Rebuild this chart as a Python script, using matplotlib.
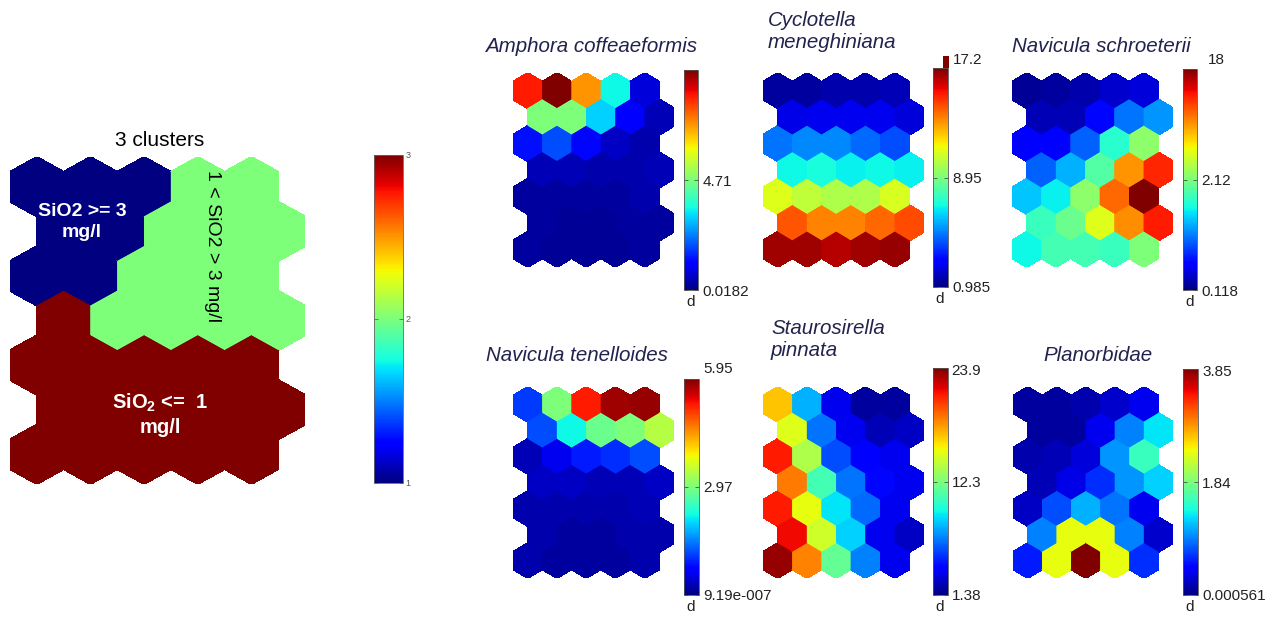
import numpy as np
import matplotlib
matplotlib.use('Agg')
import matplotlib.pyplot as plt
from matplotlib.collections import PolyCollection
from matplotlib.colors import Normalize
from matplotlib.patches import Rectangle
import matplotlib.cm as cm

W, H = 1274, 620
plt.rcParams['font.family'] = ['Liberation Sans', 'DejaVu Sans']
plt.rcParams['mathtext.fontset'] = 'custom'
plt.rcParams['mathtext.rm'] = 'Liberation Sans'
plt.rcParams['mathtext.bf'] = 'Liberation Sans:bold'

# ---------------- data ----------------
N_COLS, N_ROWS = 5, 7

cluster_ids = [
    [1, 1, 1, 2, 2],
    [1, 1, 2, 2, 2],
    [1, 1, 2, 2, 2],
    [3, 2, 2, 2, 2],
    [3, 3, 3, 3, 3],
    [3, 3, 3, 3, 3],
    [3, 3, 3, 3, 3],
]
cluster_ticks = [1, 2, 3]

species = ["Amphora coffeaeformis", "Cyclotella\nmeneghiniana", "Navicula schroeterii",
           "Navicula tenelloides", "Staurosirella\npinnata", "Planorbidae"]

# relative level on each colour bar (0 = bottom, 1 = top)
amphora = [
    [0.88, 1.00, 0.75, 0.37, 0.08],
    [0.50, 0.50, 0.33, 0.12, 0.05],
    [0.14, 0.20, 0.13, 0.06, 0.04],
    [0.05, 0.05, 0.04, 0.04, 0.05],
    [0.03, 0.03, 0.03, 0.03, 0.04],
    [0.03, 0.02, 0.02, 0.03, 0.03],
    [0.03, 0.02, 0.02, 0.02, 0.03],
]
cyclotella = [
    [0.03, 0.03, 0.04, 0.04, 0.05],
    [0.09, 0.10, 0.10, 0.10, 0.08],
    [0.24, 0.26, 0.26, 0.23, 0.20],
    [0.37, 0.38, 0.36, 0.37, 0.36],
    [0.62, 0.58, 0.56, 0.56, 0.61],
    [0.82, 0.77, 0.77, 0.80, 0.83],
    [0.97, 0.97, 0.95, 0.97, 0.98],
]
schroeterii = [
    [0.02, 0.03, 0.04, 0.07, 0.08],
    [0.05, 0.05, 0.13, 0.24, 0.27],
    [0.12, 0.11, 0.22, 0.40, 0.52],
    [0.22, 0.30, 0.45, 0.75, 0.87],
    [0.32, 0.36, 0.52, 0.80, 1.00],
    [0.42, 0.48, 0.62, 0.76, 0.88],
    [0.37, 0.43, 0.43, 0.42, 0.50],
]
tenelloides = [
    [0.18, 0.50, 0.88, 0.97, 0.98],
    [0.20, 0.37, 0.48, 0.50, 0.57],
    [0.05, 0.10, 0.15, 0.17, 0.20],
    [0.06, 0.06, 0.05, 0.05, 0.06],
    [0.04, 0.04, 0.04, 0.04, 0.05],
    [0.04, 0.03, 0.03, 0.04, 0.04],
    [0.04, 0.03, 0.03, 0.03, 0.04],
]
staurosirella = [
    [0.70, 0.30, 0.10, 0.03, 0.03],
    [0.62, 0.24, 0.10, 0.05, 0.06],
    [0.88, 0.56, 0.20, 0.12, 0.10],
    [0.78, 0.43, 0.24, 0.13, 0.10],
    [0.88, 0.63, 0.35, 0.23, 0.10],
    [0.90, 0.60, 0.33, 0.10, 0.06],
    [0.98, 0.77, 0.47, 0.25, 0.10],
]
planorbidae = [
    [0.03, 0.03, 0.04, 0.07, 0.10],
    [0.03, 0.03, 0.10, 0.25, 0.35],
    [0.04, 0.05, 0.08, 0.27, 0.42],
    [0.05, 0.09, 0.17, 0.27, 0.33],
    [0.06, 0.20, 0.30, 0.24, 0.10],
    [0.25, 0.63, 0.63, 0.25, 0.07],
    [0.15, 0.63, 1.00, 0.63, 0.17],
]
maps = [amphora, cyclotella, schroeterii, tenelloides, staurosirella, planorbidae]

bar_bottom_labels = ["0.0182", "0.985", "0.118", "9.19e-007", "1.38", "0.000561"]
bar_mid_labels = ["4.71", "8.95", "2.12", "2.97", "12.3", "1.84"]
bar_top_labels = ["", "17.2", "18", "5.95", "23.9", "3.85"]

# ---------------- layout (pixels: x0, y0, x1, y1) ----------------
map_boxes = [(513, 73, 674, 267), (763, 73, 924, 267), (1012, 73, 1173, 267),
             (513, 387, 674, 578), (763, 387, 924, 578), (1013, 387, 1173, 578)]
bar_boxes = [(684, 70, 698, 290), (933, 68, 948, 287), (1183, 69, 1197, 290),
             (684, 379, 699, 595), (933, 368, 948, 595), (1183, 369, 1198, 595)]
title_pos = [(485, 47), (768, 31), (1012, 47), (486, 355), (771, 340), (1043, 355)]
top_label_pos = [None, (953, 60), (1208, 60), (703, 369), (951, 371), (1202, 372)]


def px_axes(fig, box):
    x0, y0, x1, y1 = box
    return fig.add_axes([x0 / W, 1 - y1 / H, (x1 - x0) / W, (y1 - y0) / H])


R = 1 / np.sqrt(3)
DY = np.sqrt(3) / 2


def hex_polys(n_rows, n_cols):
    polys = []
    ang = np.deg2rad(90 + 60 * np.arange(6))
    for r in range(n_rows):
        for c in range(n_cols):
            cx = c + 0.5 * (r % 2)
            cy = -r * DY
            polys.append(np.column_stack([cx + R * np.cos(ang), cy + R * np.sin(ang)]))
    return polys


def draw_hexmap(ax, values, norm):
    vals = np.asarray(values, dtype=float).ravel()
    polys = hex_polys(N_ROWS, N_COLS)
    # seam filler (no antialiasing) beneath a smooth top layer
    base = PolyCollection(polys, array=vals, cmap='jet', norm=norm,
                          edgecolors='face', linewidths=0.6, antialiaseds=False)
    top = PolyCollection(polys, array=vals, cmap='jet', norm=norm,
                         edgecolors='none', linewidths=0, antialiaseds=True)
    ax.add_collection(base)
    ax.add_collection(top)
    ax.set_xlim(-0.5, N_COLS)
    ax.set_ylim(-((N_ROWS - 1) * DY + R), R)
    ax.set_axis_off()


fig = plt.figure(figsize=(W / 100, H / 100), dpi=100)
fig.patch.set_facecolor('white')

# ---- cluster map ----
axc = px_axes(fig, (10, 157, 305, 484))
cnorm = Normalize(1, 3)
draw_hexmap(axc, cluster_ids, cnorm)
fig.text(160 / W, 1 - 141 / H, "3 clusters", ha='center', va='center', fontsize=15)
fig.text(82 / W, 1 - 222 / H, "SiO2 >= 3\nmg/l", ha='center', va='center', fontsize=14,
         color='white', fontweight='bold', linespacing=1.25)
fig.text(212 / W, 1 - 246 / H, "1 < SiO2 > 3 mg/l", ha='center', va='center', fontsize=14,
         rotation=270, color='black')
fig.text(160 / W, 1 - 414 / H, "SiO$_\\mathbf{2}$ <=  1\nmg/l", ha='center', va='center',
         fontsize=14.5, color='white', fontweight='bold', linespacing=1.25)

caxc = px_axes(fig, (374, 155, 403, 483))
cb = fig.colorbar(cm.ScalarMappable(norm=cnorm, cmap='jet'), cax=caxc, ticks=cluster_ticks)
cb.ax.set_yticklabels([str(t) for t in cluster_ticks])
cb.outline.set_linewidth(0.6)
cb.outline.set_edgecolor('#666666')
caxc.tick_params(axis='y', direction='in', length=3, width=0.5, left=True, right=True,
                 labelsize=6.5, labelcolor='#555555', color='#555555', pad=2)

# ---- component planes ----
norm01 = Normalize(0, 1)
for i in range(6):
    ax = px_axes(fig, map_boxes[i])
    draw_hexmap(ax, maps[i], norm01)
    tx, ty = title_pos[i]
    fig.text(tx / W, 1 - ty / H, species[i], ha='left', va='center', fontsize=14.8,
             style='italic', color='#22224e', linespacing=1.2)
    cax = px_axes(fig, bar_boxes[i])
    cbi = fig.colorbar(cm.ScalarMappable(norm=norm01, cmap='jet'), cax=cax, ticks=[0, 0.5])
    cbi.ax.set_yticklabels([bar_bottom_labels[i], bar_mid_labels[i]])
    cbi.outline.set_linewidth(0.6)
    cbi.outline.set_edgecolor('#555555')
    cax.tick_params(axis='y', direction='in', length=3, width=0.5, left=True, right=True,
                    labelsize=11, labelcolor='#222222', color='#333333', pad=3)
    if top_label_pos[i] is not None:
        lx, ly = top_label_pos[i]
        fig.text(lx / W, 1 - ly / H, bar_top_labels[i], ha='left', va='center',
                 fontsize=11, color='#222222')
    bx0, by0, bx1, by1 = bar_boxes[i]
    fig.text((bx0 + 2) / W, 1 - (by1 + 12) / H, "d", ha='left', va='center',
             fontsize=11, color='#222222')

# small dark-red block above the Cyclotella colour bar
fig.patches.append(Rectangle((943 / W, 1 - 68 / H), 6 / W, 12 / H, transform=fig.transFigure,
                             facecolor=cm.jet(1.0), edgecolor='none'))

fig.savefig('out.png', dpi=100, facecolor='white')
